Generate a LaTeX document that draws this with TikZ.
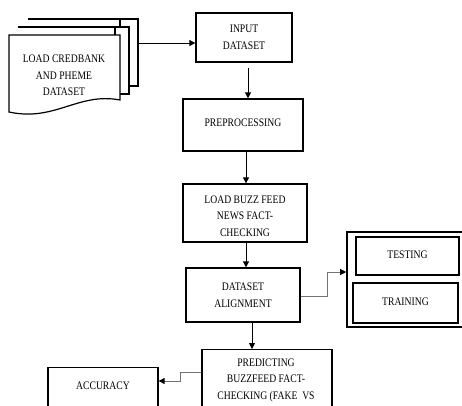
\documentclass[tikz,border=0pt]{standalone}
\usepackage{fontspec}
\setmainfont[FakeStretch=0.84]{Liberation Serif}
\usetikzlibrary{arrows.meta,calc}
\begin{document}
\begin{tikzpicture}[x=1pt,y=-1pt,
  box/.style={draw=black,line width=1.3pt,fill=white,rectangle,inner sep=0pt},
  txt/.style={align=center,font=\fontsize{11.5}{16.5}\selectfont},
  arr/.style={-{Triangle[length=6pt,width=6pt]},line width=0.8pt},
  garr/.style={-{Triangle[length=6pt,width=6pt,color=black]},line width=0.9pt,draw=black!55}]
\clip (0,0) rectangle (462,405);
\fill[white] (0,0) rectangle (462,405);
% document stack
\draw[line width=1.2pt,fill=white] (28,19) -- (138,19) -- (138,86) -- (120,86) -- (120,19) -- cycle;
\draw[line width=1.2pt,fill=white] (18,27) -- (129,27) -- (129,94) -- (115,94) -- (115,27) -- cycle;
\draw[line width=1.2pt,fill=white] (9,35) -- (120,35) -- (120,100)
  .. controls (78,92) and (55,122) .. (9,112) -- cycle;
\node[txt] (doc) at (64,75.5) {LOAD CREDBANK\\AND PHEME\\DATASET};
\coordinate (docR) at (138,43);
% main boxes
\node[box,minimum width=96pt,minimum height=49pt] (input) at (244,37.5) {};
\node[txt] at (input) {INPUT\\DATASET};
\node[box,minimum width=120pt,minimum height=52pt] (prep) at (243,125) {};
\node[txt] at (243,123) {PREPROCESSING};
\node[box,minimum width=124pt,minimum height=58pt] (buzz) at (245,213) {};
\node[txt] at (245,216) {LOAD BUZZ FEED\\NEWS FACT-\\CHECKING};
\node[box,minimum width=114pt,minimum height=54pt] (align) at (243,295) {};
\node[txt] at (243,295) {DATASET\\ALIGNMENT};
% container
\node[box,minimum width=116pt,minimum height=95pt,line width=1.6pt] (cont) at (405,279.5) {};
\node[box,minimum width=103pt,minimum height=38pt] (test) at (407.5,256) {};
\node[txt] at (407.5,255) {TESTING};
\node[box,minimum width=105pt,minimum height=40pt] (train) at (405.5,303) {};
\node[txt] at (405.5,302) {TRAINING};
% predicting
\node[box,minimum width=130pt,minimum height=80pt,anchor=north] (pred) at (267,349) {};
\node[txt] at (266,380) {PREDICTING\\BUZZFEED FACT-\\CHECKING (FAKE\ \ VS};
% accuracy
\node[box,minimum width=110pt,minimum height=70pt,anchor=north] (acc) at (103,367) {};
\node[txt] at (103,386) {ACCURACY};
% connectors
\draw[arr] (docR) -- (docR -| input.west);
\draw[arr,shorten <=5pt] ([xshift=4pt]input.south) -- ([xshift=4pt]input.south |- prep.north);
\draw[arr] ([xshift=3pt]prep.south) -- ([xshift=3pt]prep.south |- buzz.north);
\draw[arr] ([xshift=1pt]buzz.south) -- ([xshift=1pt]buzz.south |- align.north);
\draw[arr] ([xshift=9pt]align.south) -- ([xshift=9pt]align.south |- pred.north);
\coordinate (c1) at (327,296);
\coordinate (c2) at (327,272);
\draw[garr] (align.east |- c1) -- (c1) -- (c2) -- (c2 -| cont.west);
\coordinate (c3) at (180,372);
\coordinate (c4) at (180,381);
\draw[garr] (pred.west |- c3) -- (c3) -- (c4) -- (c4 -| acc.east);
\end{tikzpicture}
\end{document}
